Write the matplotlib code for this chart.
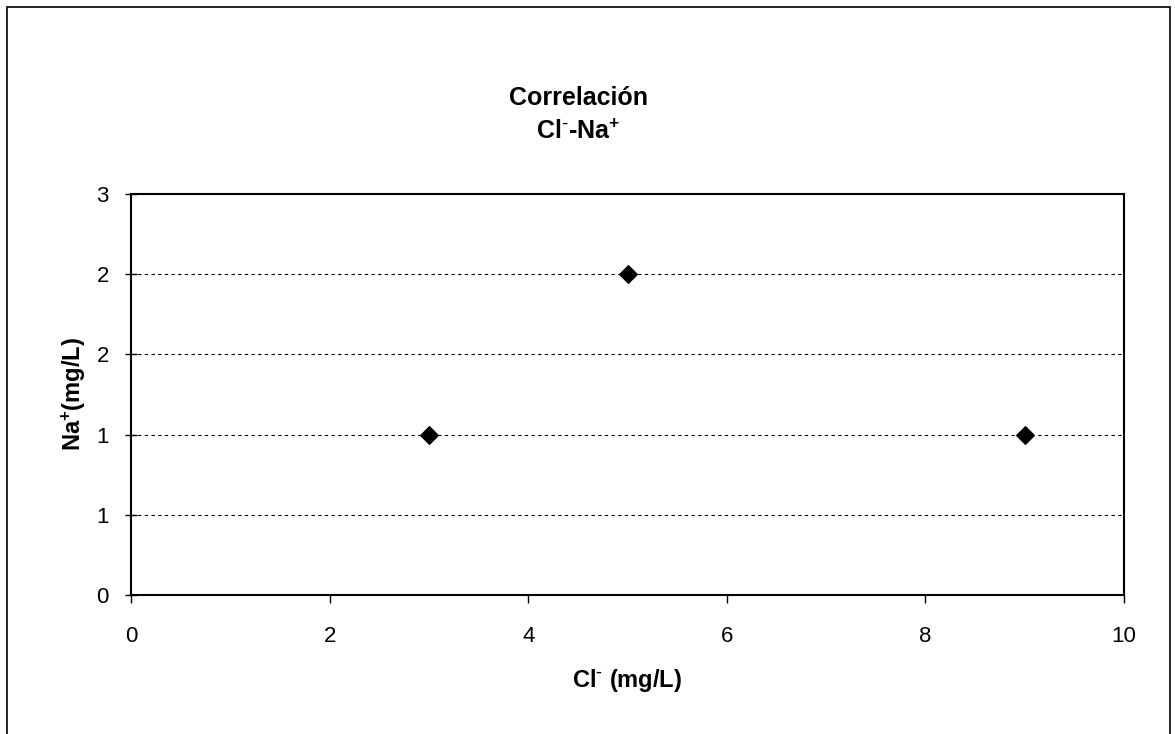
import matplotlib
matplotlib.use("Agg")
import matplotlib.pyplot as plt
from matplotlib.patches import Rectangle
from matplotlib.ticker import FixedLocator, FormatStrFormatter

plt.rcParams['font.family'] = ['Liberation Sans', 'DejaVu Sans']
plt.rcParams['mathtext.default'] = 'regular'

# Cl- vs Na+ (mg/L)
cl_values = [3, 5, 9]
na_values = [1.2, 2.4, 1.2]

x_ticks = [0, 2, 4, 6, 8, 10]
y_ticks = [0, 0.6, 1.2, 1.8, 2.4, 3.0]

fig = plt.figure(figsize=(11.75, 7.34), dpi=100)
ax = fig.add_axes([0.1115, 0.1894, 0.8451, 0.5463])

# outer chart border (bottom is cut off in the original)
fig.patches.append(Rectangle((7 / 1175, -0.05), 1163 / 1175, 1.05 - 7 / 734,
                             transform=fig.transFigure, fill=False,
                             edgecolor='black', linewidth=1.2))

for yv in y_ticks[1:-1]:
    ax.axhline(yv, color='black', linestyle=(0, (3, 3)), linewidth=0.8, zorder=1)

ax.scatter(cl_values, na_values, marker='D', s=80, color='black', zorder=3)

ax.set_xlim(0, 10)
ax.set_ylim(0, 3)
ax.xaxis.set_major_locator(FixedLocator(x_ticks))
ax.yaxis.set_major_locator(FixedLocator(y_ticks))
ax.yaxis.set_major_formatter(FormatStrFormatter('%.0f'))
ax.tick_params(axis='x', direction='out', length=6, width=1, labelsize=16, pad=16)
ax.tick_params(axis='y', direction='inout', length=8, width=1, labelsize=16, pad=12)
for s in ax.spines.values():
    s.set_linewidth(1.5)

ax.set_xlabel(r'Cl$^{\text{-}}$ (mg/L)', fontsize=17, fontweight='bold', labelpad=15)
ax.set_ylabel(r'Na$^{+}$(mg/L)', fontsize=17, fontweight='bold', labelpad=6)

fig.text(0.492, 0.866, 'Correlación', ha='center', va='center',
         fontsize=18, fontweight='bold')
fig.text(0.492, 0.82, r'Cl$^{\text{-}}$-Na$^{+}$', ha='center', va='center',
         fontsize=18, fontweight='bold')

fig.savefig('out.png', dpi=100)
